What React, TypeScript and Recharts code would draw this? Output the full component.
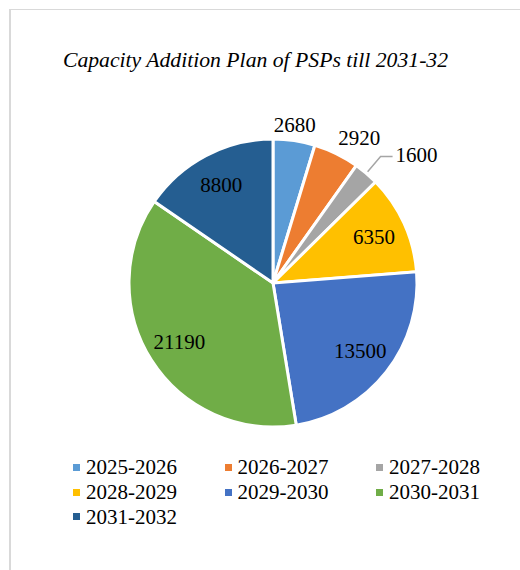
import { Cell, Legend, Pie, PieChart } from "recharts";

const PERIODS = [
  "2025-2026",
  "2026-2027",
  "2027-2028",
  "2028-2029",
  "2029-2030",
  "2030-2031",
  "2031-2032",
];
const CAPACITY_MW = [2680, 2920, 1600, 6350, 13500, 21190, 8800];
const COLORS = ["#5B9BD5", "#ED7D31", "#A5A5A5", "#FFC000", "#4472C4", "#70AD47", "#255E91"];

const FONT = '"Liberation Serif", "Times New Roman", serif';
const RAD = Math.PI / 180;

const data = PERIODS.map((period, i) => ({ period, value: CAPACITY_MW[i] }));

// Excel-style "best fit" labels: inside for big slices, outside for small ones,
// with a leader line for the tiniest slice.
function renderLabel(props: any) {
  const { cx, cy, midAngle, outerRadius, percent, value, index } = props;
  const cos = Math.cos(-midAngle * RAD);
  const sin = Math.sin(-midAngle * RAD);
  const common = { fontFamily: FONT, fontSize: 21, fill: "#000" };

  if (percent > 0.08) {
    const r = outerRadius * 0.77;
    return (
      <text
        key={`l-${index}`}
        x={cx + r * cos}
        y={cy + r * sin}
        textAnchor="middle"
        dominantBaseline="central"
        {...common}
      >
        {value}
      </text>
    );
  }

  if (percent < 0.04) {
    const sx = cx + (outerRadius + 2) * cos;
    const sy = cy + (outerRadius + 2) * sin;
    const ex = cx + (outerRadius + 22) * cos;
    const ey = cy + (outerRadius + 22) * sin;
    return (
      <g key={`l-${index}`}>
        <polyline
          points={`${sx},${sy} ${ex},${ey} ${ex + 12},${ey}`}
          fill="none"
          stroke="#A5A5A5"
          strokeWidth={1.5}
        />
        <text x={ex + 15} y={ey - 2} textAnchor="start" dominantBaseline="central" {...common}>
          {value}
        </text>
      </g>
    );
  }

  const px = cx + (outerRadius + 4) * cos;
  const py = cy + (outerRadius + 4) * sin;
  const anchor = cos > 0.3 ? "start" : "middle";
  return (
    <text key={`l-${index}`} x={px} y={py - 12} textAnchor={anchor} dominantBaseline="central" {...common}>
      {value}
    </text>
  );
}

function LegendGrid() {
  return (
    <div
      style={{
        display: "grid",
        gridTemplateColumns: "151.5px 151.5px 151.5px",
        rowGap: 0,
        marginLeft: 73,
        fontFamily: FONT,
        fontSize: 21,
        color: "#000",
      }}
    >
      {PERIODS.map((p, i) => (
        <div key={p} style={{ display: "flex", alignItems: "center", height: 24.7 }}>
          <span
            style={{
              width: 7,
              height: 7,
              background: COLORS[i],
              display: "inline-block",
              marginRight: 6,
            }}
          />
          <span style={{ lineHeight: "24px" }}>{p}</span>
        </div>
      ))}
    </div>
  );
}

export default function App() {
  return (
    <div style={{ position: "absolute", left: 0, top: 0, width: 520, height: 570, background: "#fff" }}>
      <div
        style={{
          position: "absolute",
          left: 9,
          top: 9,
          width: 520,
          height: 570,
          borderLeft: "2px solid #D9D9D9",
          borderTop: "1px solid #D9D9D9",
        }}
      />
      <div
        style={{
          position: "absolute",
          left: 0,
          top: 46,
          width: 511,
          textAlign: "center",
          fontFamily: FONT,
          fontStyle: "italic",
          fontSize: 21.7,
          lineHeight: "29px",
        }}
      >
        Capacity Addition Plan of PSPs till 2031-32
      </div>
      <div style={{ position: "absolute", left: 0, top: 0 }}>
        <PieChart width={520} height={570} margin={{ top: 0, right: 0, bottom: 0, left: 0 }}>
          <Pie
            data={data}
            dataKey="value"
            nameKey="period"
            cx={273}
            cy={283}
            outerRadius={144}
            startAngle={90}
            endAngle={-270}
            stroke="#fff"
            strokeWidth={3}
            label={renderLabel}
            labelLine={false}
            isAnimationActive={false}
          >
            {data.map((d, i) => (
              <Cell key={d.period} fill={COLORS[i]} />
            ))}
          </Pie>
          <Legend
            content={() => <LegendGrid />}
            wrapperStyle={{ position: "absolute", left: 0, top: 455, width: 520 }}
          />
        </PieChart>
      </div>
    </div>
  );
}
